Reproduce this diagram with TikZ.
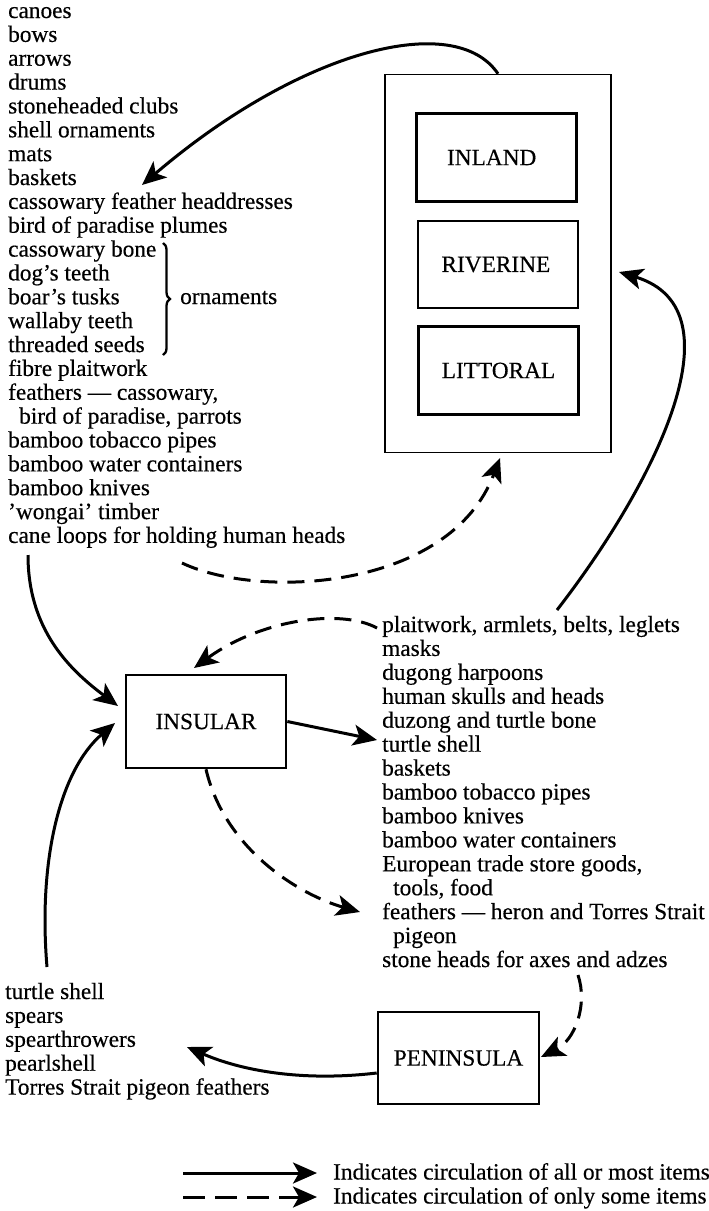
\documentclass[tikz,border=0pt]{standalone}
\usepackage{fontspec}
\setmainfont{Liberation Serif}[FakeBold=0.4]
\usetikzlibrary{arrows.meta,decorations.pathreplacing}
\begin{document}
\begin{tikzpicture}[x=1pt,y=-1pt,
  every node/.style={font=\fontsize{23.3}{24}\selectfont, inner sep=0pt},
  item/.style={anchor=base west},
  zone/.style={draw, line width=2.6pt, minimum width=160pt, minimum height=88pt},
  flow/.style={line width=3pt, -{Stealth[length=24pt,width=21pt,inset=6pt]}},
  partial/.style={flow, dash pattern=on 17pt off 10pt}]

% page
\fill[white] (0,0) rectangle (709,1211);
\useasboundingbox (0,0) rectangle (709,1211);

% mainland region with its three zones
\node[draw, line width=1.5pt, minimum width=226pt, minimum height=378pt] (region) at (498,263.5) {};
\node[zone] (inland)   at (496.7,157.5) {\hspace*{-10pt}INLAND};
\node[zone, minimum height=87pt] (riverine) at (497.9,264.5) {\hspace*{-4pt}RIVERINE};
\node[zone] (littoral) at (498.5,370.5) {LITTORAL};

% island and peninsula groups
\node[zone, minimum height=93pt] (insular) at (206,721.5) {INSULAR};
\node[zone, minimum width=161pt, minimum height=92pt] (peninsula) at (458.5,1058) {PENINSULA};

% goods from the mainland
\foreach \t [count=\i from 0] in {canoes, bows, arrows, drums, stoneheaded clubs,
  shell ornaments, mats, baskets, cassowary feather headdresses,
  bird of paradise plumes, cassowary bone, dog's teeth, boar's tusks,
  wallaby teeth, threaded seeds, fibre plaitwork, {feathers --- cassowary,},
  {\hspace{11pt}bird of paradise, parrots}, bamboo tobacco pipes,
  bamboo water containers, bamboo knives, 'wongai' timber,
  cane loops for holding human heads}
  \node[item] (west\i) at (8,18+23.86*\i) {\t};

\draw[decorate, decoration={brace, amplitude=7pt}, line width=2.3pt] (163,243) -- (163,355);
\node[item] (ornaments) at (180,304) {ornaments};

% goods from the islands
\foreach \t [count=\i from 0] in {{plaitwork, armlets, belts, leglets}, masks,
  dugong harpoons, human skulls and heads, duzong and turtle bone, turtle shell,
  baskets, bamboo tobacco pipes, bamboo knives, bamboo water containers,
  {European trade store goods,}, {\hspace{11pt}tools, food},
  {feathers --- heron and Torres Strait}, {\hspace{11pt}pigeon},
  stone heads for axes and adzes}
  \node[item] (east\i) at (382,632+23.93*\i) {\t};

% goods from the peninsula
\foreach \t [count=\i from 0] in {turtle shell, spears, spearthrowers, pearlshell,
  Torres Strait pigeon feathers}
  \node[item] (south\i) at (5,999+23.9*\i) {\t};

% free ends of the connectors
\coordinate (wTip) at (142,185);
\coordinate (wOut) at (182,563);
\coordinate (rIn) at (500,458);
\coordinate (eUp) at (557,610);
\coordinate (rSide) at (619,272);
\coordinate (wDown) at (28,555);
\coordinate (iTipA) at (118,706);
\coordinate (sUp) at (47,967);
\coordinate (iTipB) at (115,723);
\coordinate (eOut) at (377,628);
\coordinate (iTop) at (194,668);
\coordinate (eTurtle) at (377,740);
\coordinate (eFeather) at (360,912);
\coordinate (eStone) at (578,975);
\coordinate (pSide) at (541,1057);
\coordinate (sTip) at (187,1047);

% circulation
\draw[flow] (region.north) .. controls (455,10) and (300,50) .. (wTip);
\draw[partial] (wOut) .. controls (260,600) and (450,590) .. (rIn);
\draw[flow] (eUp) .. controls (650,490) and (745,310) .. (rSide);
\draw[flow] (wDown) .. controls (28,630) and (70,670) .. (iTipA);
\draw[flow] (sUp) .. controls (38,860) and (60,770) .. (iTipB);
\draw[partial] (eOut) .. controls (340,608) and (260,620) .. (iTop);
\draw[flow] (insular.east) -- (eTurtle);
\draw[partial] (insular.south) .. controls (225,850) and (300,895) .. (eFeather);
\draw[partial] (eStone) .. controls (588,1005) and (575,1040) .. (pSide);
\draw[flow] ([yshift=-15pt]peninsula.west) .. controls (300,1082) and (240,1070) .. (sTip);

% key
\coordinate (k1a) at (183,1173);
\coordinate (k1b) at (317,1173);
\coordinate (k2a) at (183,1197);
\coordinate (k2b) at (317,1197);
\draw[flow] (k1a) -- (k1b);
\draw[partial, dash pattern=on 22pt off 10pt] (k2a) -- (k2b);
\node[item] (key1) at (333,1179.5) {Indicates circulation of all or most items};
\node[item] (key2) at (333,1203.5) {Indicates circulation of only some items};
\end{tikzpicture}
\end{document}
